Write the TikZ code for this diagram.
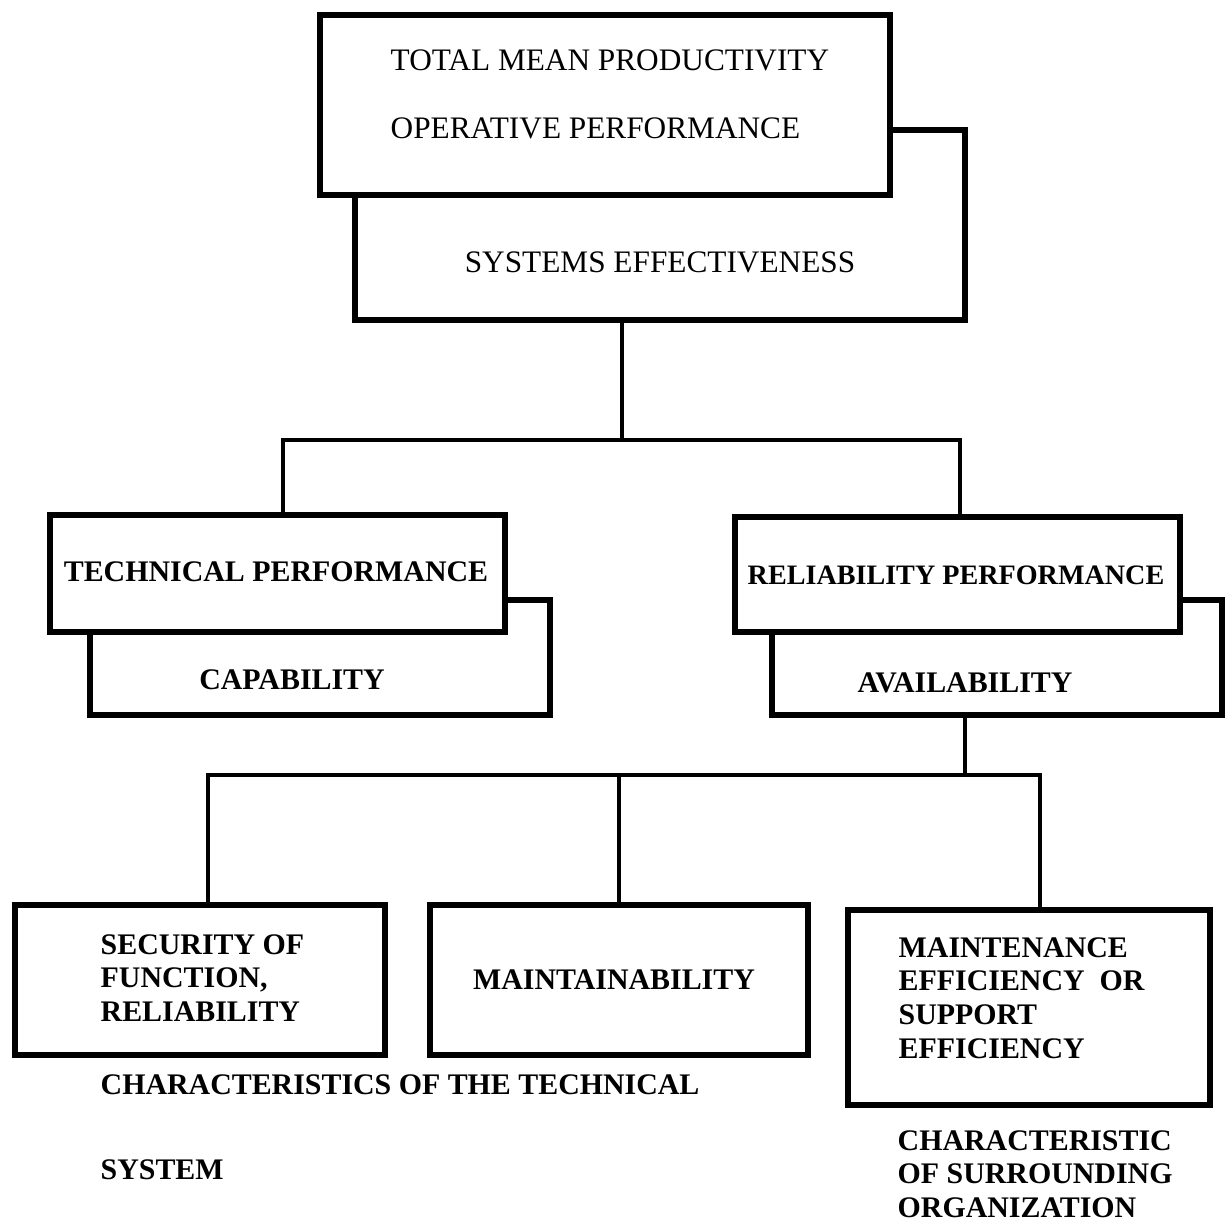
\documentclass[tikz,border=0pt]{standalone}
\usepackage{fontspec}
\setmainfont{Liberation Serif}
\usetikzlibrary{positioning}

\begin{document}
\begin{tikzpicture}[x=0.01cm, y=-0.01cm,
    box/.style={draw, line width=1.6pt, fill=white, inner sep=0pt},
    link/.style={line width=1.1pt},
    plain/.style={font=\fontsize{8.9}{10.5}\selectfont, inner sep=0pt},
    heavy/.style={font=\fontsize{8.5}{9.6}\selectfont\bfseries, inner sep=0pt, align=left}]
    \useasboundingbox (0,0) rectangle (1227,1231);

    % Top level
    \node[box, minimum width=6.1cm, minimum height=1.9cm] (seback) at (660,225) {};
    \node[box, minimum width=5.7cm, minimum height=1.8cm] (sefront) at (605,105) {};
    \node[plain, anchor=west] (tmp) at (390,60) {TOTAL MEAN PRODUCTIVITY};
    \node[plain, anchor=west] (opp) at (390,128) {OPERATIVE PERFORMANCE};
    \node[plain] (sys) at (660,262) {SYSTEMS EFFECTIVENESS};

    % Second level
    \node[box, minimum width=4.6cm, minimum height=1.15cm] (capback) at (320,657.5) {};
    \node[box, minimum width=4.55cm, minimum height=1.17cm] (tpfront) at (277.5,573.5) {};
    \node[heavy] (tp) at (276,572) {TECHNICAL PERFORMANCE};
    \node[heavy] (cap) at (292,680) {CAPABILITY};

    \node[box, minimum width=4.5cm, minimum height=1.15cm] (avback) at (997,657.5) {};
    \node[box, minimum width=4.45cm, minimum height=1.15cm] (rpfront) at (957.5,574.5) {};
    \node[heavy, font=\fontsize{8}{9.6}\selectfont\bfseries] (rp) at (956,575) {RELIABILITY PERFORMANCE};
    \node[heavy] (av) at (965,683) {AVAILABILITY};

    % Third level
    \node[box, minimum width=3.7cm, minimum height=1.5cm] (sfbox) at (200,980) {};
    \node[box, minimum width=3.78cm, minimum height=1.5cm] (mtbox) at (619,980) {};
    \node[box, minimum width=3.62cm, minimum height=1.95cm] (mebox) at (1029,1007.5) {};
    \node[heavy, anchor=west] (sf) at (100,978) {SECURITY OF\\FUNCTION,\\RELIABILITY};
    \node[heavy] (mt) at (614,980) {MAINTAINABILITY};
    \node[heavy, anchor=west] (me) at (898,998) {MAINTENANCE\\EFFICIENCY\ \ OR\\SUPPORT\\EFFICIENCY};

    % Captions
    \node[heavy, anchor=west] (tcap) at (100,1085) {CHARACTERISTICS OF THE TECHNICAL};
    \node[heavy, anchor=west] (tsys) at (100,1170) {SYSTEM};
    \node[heavy, anchor=west] (ocap) at (897,1174) {CHARACTERISTIC\\OF SURROUNDING\\ORGANIZATION};

    % Connectors
    \coordinate (j1) at (622,440);
    \coordinate (j2) at (965,775);
    \draw[link] (seback.south -| j1) -- (j1);
    \draw[link] ([xshift=0.055cm]tpfront.north) |- (j1) -| ([xshift=0.025cm]rpfront.north);
    \draw[link] (avback.south -| j2) -- (j2);
    \draw[link] ([xshift=0.08cm]sfbox.north) |- (j2) -| ([xshift=0.11cm]mebox.north);
    \draw[link] (mtbox.north) -- (mtbox.north |- j2);
\end{tikzpicture}
\end{document}
